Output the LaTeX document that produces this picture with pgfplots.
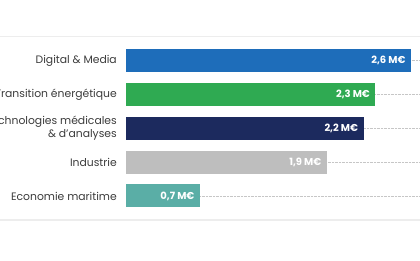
\documentclass[border=0pt]{standalone}
\usepackage{pgfplots}
\pgfplotsset{compat=1.18}
\usepackage{fontspec}
\setmainfont{Poppins}
\definecolor{cblue}{HTML}{1E6DBA}
\definecolor{cgreen}{HTML}{2FAA52}
\definecolor{cnavy}{HTML}{1C2A5E}
\definecolor{cgray}{HTML}{BEBEBE}
\definecolor{cteal}{HTML}{5AAEA6}
\definecolor{ctext}{HTML}{3C3C3C}
\definecolor{cline}{HTML}{EDEDED}
\begin{document}
\begin{tikzpicture}
\useasboundingbox (0,0) rectangle (420pt,260pt);
\clip (0,0) rectangle (420pt,260pt);
\fill[white] (0,0) rectangle (420pt,260pt);
\draw[cline, line width=1.8pt] (0,223.5pt) -- (420pt,223.5pt);
\draw[cline, line width=1.8pt] (0,40pt) -- (420pt,40pt);
\begin{axis}[
  at={(126pt,40.3pt)}, anchor=south west,
  scale only axis, width=297pt, height=183pt,
  xmin=0, xmax=2.75, ymin=-0.7, ymax=4.7,
  y dir=reverse,
  xbar, bar width=23pt, bar shift=0pt,
  axis line style={draw=none},
  xtick=\empty,
  ytick={0,1,2,3,4},
  yticklabels={Digital \& Media, Transition énergétique, {Technologies médicales\\\& d'analyses}, Industrie, Economie maritime},
  yticklabel style={align=right, font=\fontsize{10.8}{13.5}\selectfont, text=ctext, inner sep=0pt, xshift=-9pt},
  major tick length=0pt,
  ymajorgrids,
  major grid style={densely dotted, gray!45, line width=0.7pt},
  point meta=explicit symbolic,
  nodes near coords,
  nodes near coords align={left},
  every node near coord/.append style={font=\bfseries\fontsize{10}{11}\selectfont, text=white, xshift=-2pt},
  clip=false,
]
\addplot[draw=none, fill=cblue] table[meta=label] {
x y label
2.64 0 {2,6 M€}
};
\addplot[draw=none, fill=cgreen] table[meta=label] {
x y label
2.31 1 {2,3 M€}
};
\addplot[draw=none, fill=cnavy] table[meta=label] {
x y label
2.20 2 {2,2 M€}
};
\addplot[draw=none, fill=cgray] table[meta=label] {
x y label
1.86 3 {1,9 M€}
};
\addplot[draw=none, fill=cteal] table[meta=label] {
x y label
0.685 4 {0,7 M€}
};
\end{axis}
\end{tikzpicture}
\end{document}
